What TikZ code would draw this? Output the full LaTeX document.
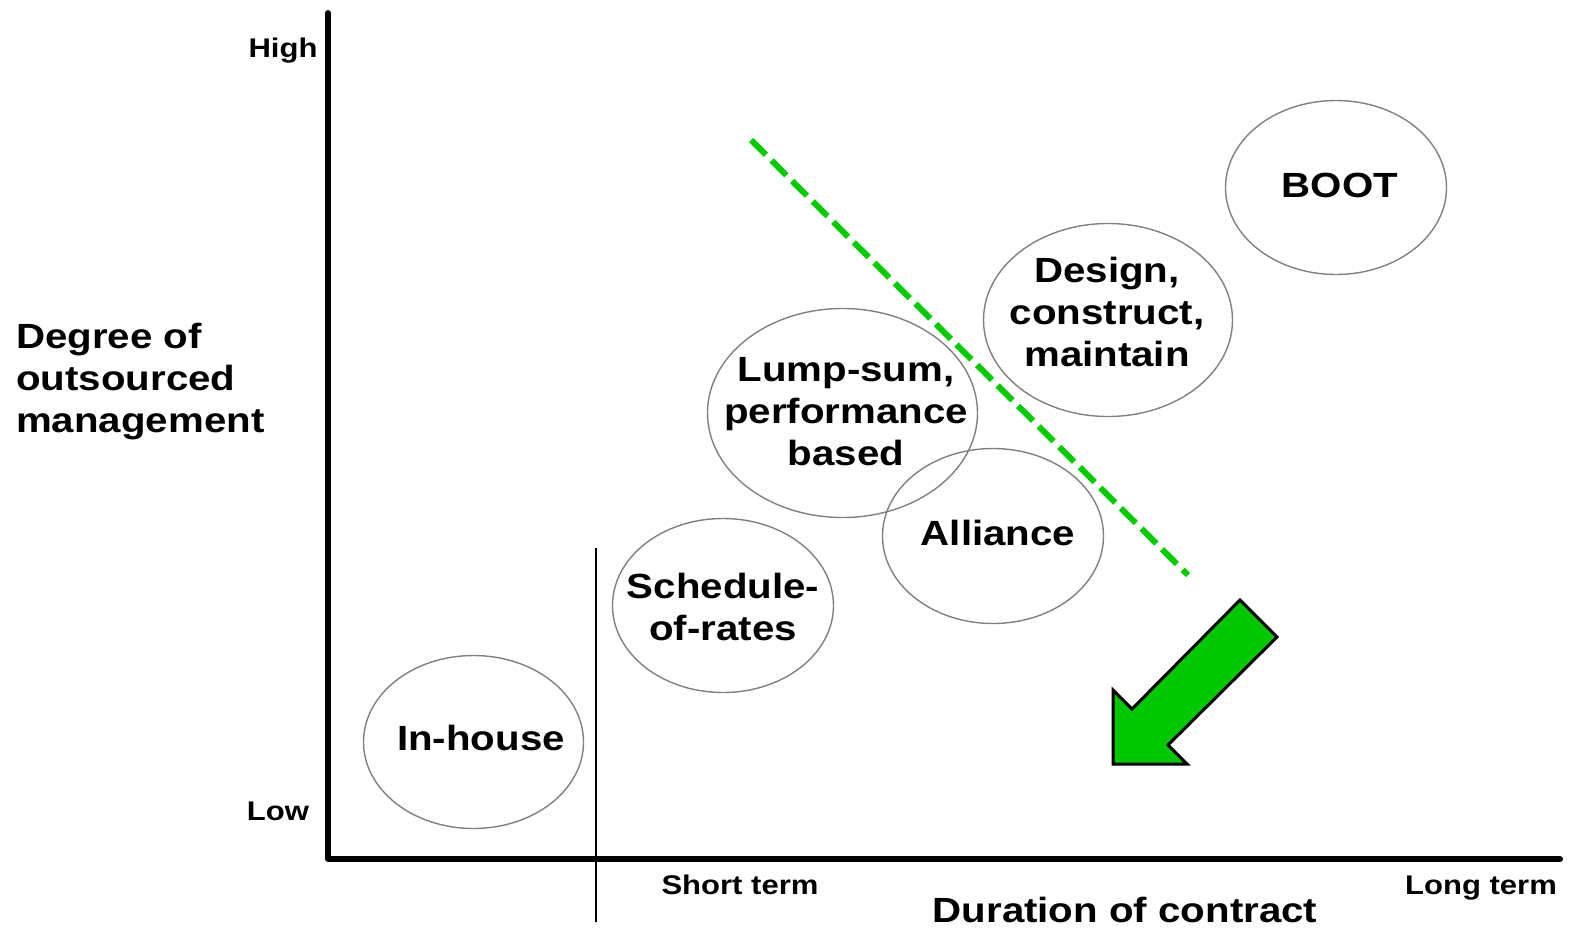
\documentclass[tikz,border=0pt]{standalone}
\usepackage{fontspec}
\setmainfont[FakeStretch=1.15]{Liberation Sans}
\usetikzlibrary{shapes.geometric}
\definecolor{dashgreen}{RGB}{0,204,0}
\definecolor{arrowgreen}{RGB}{0,200,0}
\begin{document}
\begin{tikzpicture}[x=1pt,y=-1pt,
  bubble/.style={ellipse,draw=black!50,line width=1.4pt,inner sep=0pt,outer sep=0pt},
  big/.style={font=\fontsize{35}{42}\selectfont\bfseries,inner sep=0pt,align=center},
  small/.style={font=\fontsize{27}{32}\selectfont\bfseries,inner sep=0pt}]
\useasboundingbox (0,0) rectangle (1571,927);
% axes
\coordinate (ytop) at (328,13);
\coordinate (origin) at (328,859);
\coordinate (xend) at (1560,859);
\draw[line width=6pt,line cap=round,line join=round] (ytop) -- (origin) -- (xend);
\coordinate (vtop) at (596,548);
\coordinate (vbot) at (596,922);
\draw[line width=1.6pt] (vtop) -- (vbot);
% axis labels
\node[small,anchor=base] (high) at (283,57) {High};
\node[small,anchor=base] (low) at (278,820) {Low};
\node[big,anchor=west,align=left] (ylab) at (16,382) {Degree of\\outsourced\\management};
\node[small,anchor=base] (short) at (740,894) {Short term};
\node[small,anchor=base] (long) at (1481,894) {Long term};
\node[big,anchor=base] (xlab) at (1125,922) {Duration of contract};
% bubbles
\node[bubble,minimum width=220pt,minimum height=173pt] (e1) at (473.5,742) {};
\node[bubble,minimum width=221pt,minimum height=174pt] (e2) at (723,605.5) {};
\node[bubble,minimum width=270pt,minimum height=209pt] (e3) at (842.5,413) {};
\node[bubble,minimum width=221pt,minimum height=175pt] (e4) at (993,536) {};
\node[bubble,minimum width=249pt,minimum height=193pt] (e5) at (1108,320) {};
\node[bubble,minimum width=221pt,minimum height=174pt] (e6) at (1336,187.5) {};
\node[big,anchor=base] (t1) at (481,750) {In-house};
\node[big] (t2) at (723,607) {Schedule-\\of-rates};
\node[big] (t3) at (846,412) {Lump-sum,\\performance\\based};
\node[big,anchor=base] (t4) at (998,545) {Alliance};
\node[big] (t5) at (1107,312) {Design,\\construct,\\maintain};
\node[big,anchor=base] (t6) at (1340,197) {BOOT};
% dashed green line
\coordinate (d1) at (751,140);
\coordinate (d2) at (1188,575);
\draw[dashgreen,line width=6pt,dash pattern=on 21pt off 8pt] (d1) -- (d2);
% big green arrow
\draw[fill=arrowgreen,draw=black,line width=3pt,line join=miter]
  (1240,600) -- (1277,637) -- (1168,745) -- (1187,764) -- (1113,764) -- (1113,690) -- (1132,709) -- cycle;
\end{tikzpicture}
\end{document}
